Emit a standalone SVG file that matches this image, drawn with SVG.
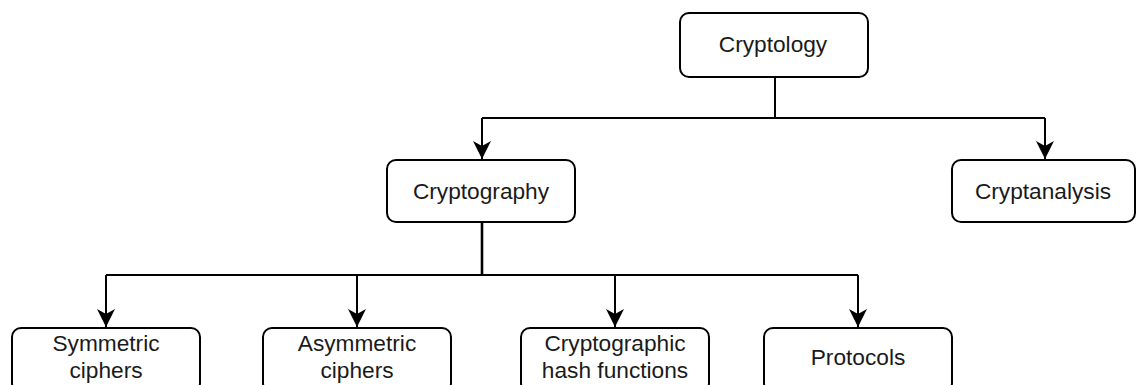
<svg xmlns="http://www.w3.org/2000/svg" width="1138" height="385" viewBox="0 0 1138 385">
<defs>
<style>
.box{fill:#fff;stroke:#000;stroke-width:2}
.t{font-family:"Liberation Sans",Arial,sans-serif;font-size:22.7px;fill:#1a1a1a;text-anchor:middle}
.c{fill:none;stroke:#000;stroke-width:2}
</style>
<marker id="arr" markerWidth="18" markerHeight="18" viewBox="0 0 18 18" refX="9" refY="18" orient="0" markerUnits="userSpaceOnUse">
<path d="M0,0 L9,5 L18,0 L9,18 Z" fill="#000"/>
</marker>
</defs>
<rect width="1138" height="385" fill="#fff"/>
<g id="connectors">
<path class="c" d="M775,77 V118"/>
<path class="c" d="M482,118 H1045"/>
<path class="c" d="M482,118 V159" marker-end="url(#arr)"/>
<path class="c" d="M1045,118 V159" marker-end="url(#arr)"/>
<path class="c" d="M482,222 V275" style="stroke-width:2.6"/>
<path class="c" d="M106,275 H858"/>
<path class="c" d="M106,275 V327" marker-end="url(#arr)"/>
<path class="c" d="M357,275 V327" marker-end="url(#arr)"/>
<path class="c" d="M615,275 V327" marker-end="url(#arr)"/>
<path class="c" d="M858,275 V327" marker-end="url(#arr)"/>
</g>
<g id="cryptology"><rect class="box" x="680" y="13" width="188" height="64" rx="9"/><text class="t" x="773" y="52">Cryptology</text></g>
<g id="cryptography"><rect class="box" x="387" y="160" width="188" height="62" rx="9"/><text class="t" x="481" y="199">Cryptography</text></g>
<g id="cryptanalysis"><rect class="box" x="952" y="160" width="183" height="62" rx="9"/><text class="t" x="1043" y="199">Cryptanalysis</text></g>
<g id="symmetric"><rect class="box" x="12" y="328" width="188" height="64" rx="9"/><text class="t" x="106" y="351">Symmetric</text><text class="t" x="106" y="378">ciphers</text></g>
<g id="asymmetric"><rect class="box" x="263" y="328" width="188" height="64" rx="9"/><text class="t" x="357" y="351">Asymmetric</text><text class="t" x="357" y="378">ciphers</text></g>
<g id="hash"><rect class="box" x="521" y="328" width="188" height="64" rx="9"/><text class="t" x="615" y="351">Cryptographic</text><text class="t" x="615" y="378">hash functions</text></g>
<g id="protocols"><rect class="box" x="764" y="328" width="188" height="64" rx="9"/><text class="t" x="858" y="365">Protocols</text></g>
</svg>
